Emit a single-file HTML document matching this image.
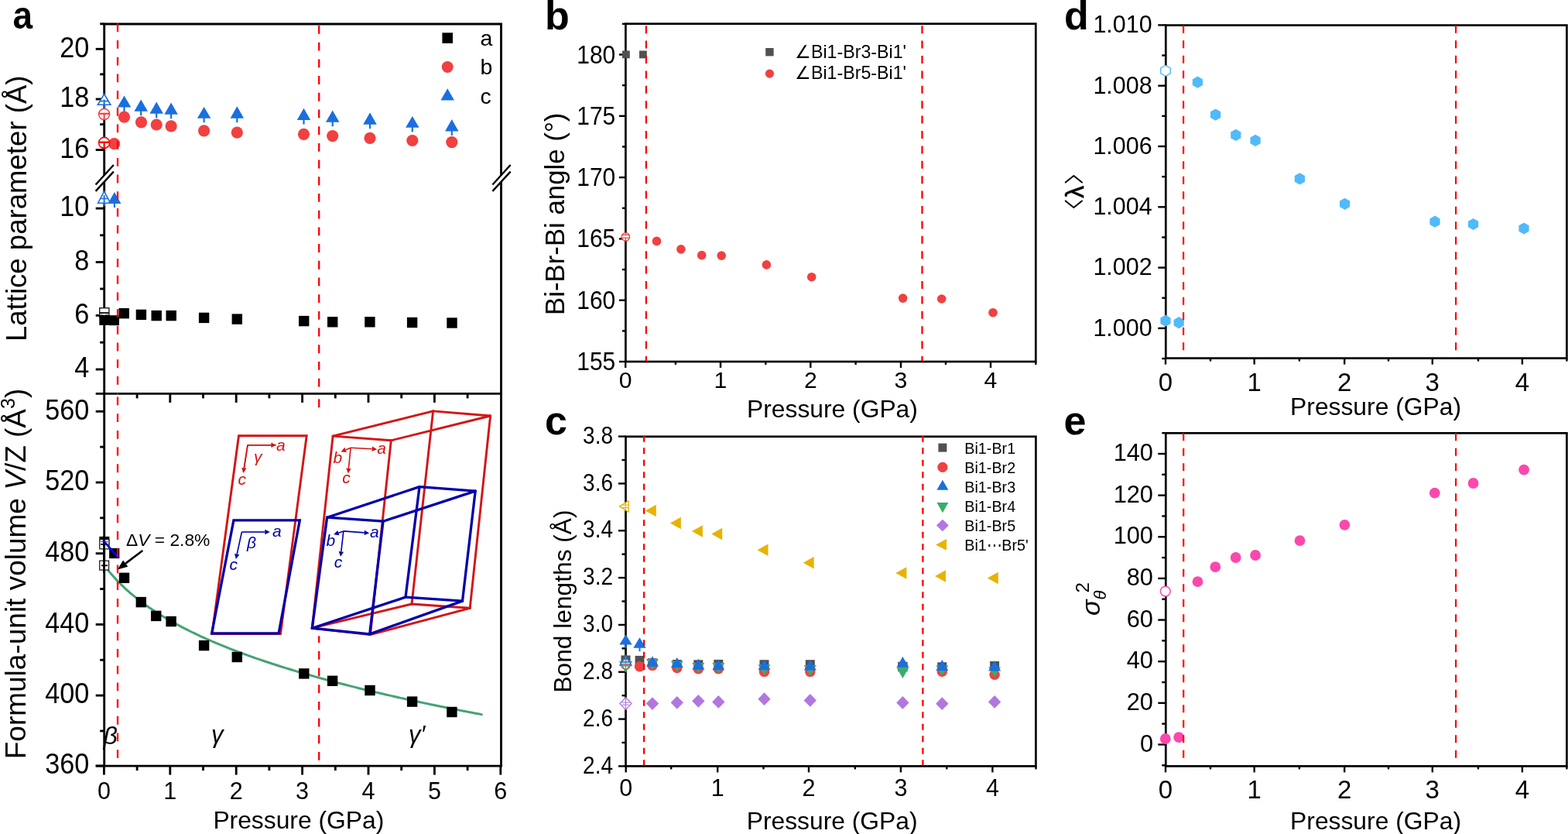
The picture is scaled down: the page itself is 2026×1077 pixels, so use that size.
<!DOCTYPE html>
<html><head><meta charset="utf-8"><title>Figure</title><style>html,body{margin:0;padding:0;background:#fff;overflow:hidden}svg{display:block}</style></head><body>
<svg width="2026" height="1077" viewBox="0 0 2026 1077" font-family="'Liberation Sans', Arial, Helvetica, sans-serif">
<rect width="2026" height="1077" fill="#fff"/>
<line x1="133.27" y1="31" x2="648.92" y2="31" stroke="#000" stroke-width="2.85" />
<line x1="134.7" y1="31" x2="134.7" y2="989.1" stroke="#000" stroke-width="2.85" />
<line x1="647.5" y1="31" x2="647.5" y2="989.1" stroke="#000" stroke-width="2.85" />
<line x1="123.7" y1="508.4" x2="648.92" y2="508.4" stroke="#000" stroke-width="2.85" />
<line x1="123.7" y1="989.1" x2="648.92" y2="989.1" stroke="#000" stroke-width="2.85" />
<line x1="123.7" y1="63.3" x2="134.7" y2="63.3" stroke="#000" stroke-width="2.85" />
<line x1="123.7" y1="128" x2="134.7" y2="128" stroke="#000" stroke-width="2.85" />
<line x1="123.7" y1="193.6" x2="134.7" y2="193.6" stroke="#000" stroke-width="2.85" />
<line x1="123.7" y1="269.1" x2="134.7" y2="269.1" stroke="#000" stroke-width="2.85" />
<line x1="123.7" y1="338.5" x2="134.7" y2="338.5" stroke="#000" stroke-width="2.85" />
<line x1="123.7" y1="407.4" x2="134.7" y2="407.4" stroke="#000" stroke-width="2.85" />
<line x1="123.7" y1="477" x2="134.7" y2="477" stroke="#000" stroke-width="2.85" />
<line x1="129.2" y1="30.8" x2="134.7" y2="30.8" stroke="#000" stroke-width="2.85" />
<line x1="129.2" y1="95.9" x2="134.7" y2="95.9" stroke="#000" stroke-width="2.85" />
<line x1="129.2" y1="160.6" x2="134.7" y2="160.6" stroke="#000" stroke-width="2.85" />
<line x1="129.2" y1="303.8" x2="134.7" y2="303.8" stroke="#000" stroke-width="2.85" />
<line x1="129.2" y1="373" x2="134.7" y2="373" stroke="#000" stroke-width="2.85" />
<line x1="129.2" y1="442.2" x2="134.7" y2="442.2" stroke="#000" stroke-width="2.85" />
<text x="0" y="0" transform="translate(115.2,73.5) scale(1,1.06)" font-size="34.2" text-anchor="end" fill="#000" >20</text>
<text x="0" y="0" transform="translate(115.2,138.2) scale(1,1.06)" font-size="34.2" text-anchor="end" fill="#000" >18</text>
<text x="0" y="0" transform="translate(115.2,203.8) scale(1,1.06)" font-size="34.2" text-anchor="end" fill="#000" >16</text>
<text x="0" y="0" transform="translate(115.2,279.3) scale(1,1.06)" font-size="34.2" text-anchor="end" fill="#000" >10</text>
<text x="0" y="0" transform="translate(115.2,348.7) scale(1,1.06)" font-size="34.2" text-anchor="end" fill="#000" >8</text>
<text x="0" y="0" transform="translate(115.2,417.6) scale(1,1.06)" font-size="34.2" text-anchor="end" fill="#000" >6</text>
<text x="0" y="0" transform="translate(115.2,487.2) scale(1,1.06)" font-size="34.2" text-anchor="end" fill="#000" >4</text>
<line x1="123.7" y1="531.3" x2="134.7" y2="531.3" stroke="#000" stroke-width="2.85" />
<line x1="123.7" y1="623" x2="134.7" y2="623" stroke="#000" stroke-width="2.85" />
<line x1="123.7" y1="714.7" x2="134.7" y2="714.7" stroke="#000" stroke-width="2.85" />
<line x1="123.7" y1="806.4" x2="134.7" y2="806.4" stroke="#000" stroke-width="2.85" />
<line x1="123.7" y1="898.1" x2="134.7" y2="898.1" stroke="#000" stroke-width="2.85" />
<line x1="123.7" y1="989" x2="134.7" y2="989" stroke="#000" stroke-width="2.85" />
<line x1="129.2" y1="577.15" x2="134.7" y2="577.15" stroke="#000" stroke-width="2.85" />
<line x1="129.2" y1="668.85" x2="134.7" y2="668.85" stroke="#000" stroke-width="2.85" />
<line x1="129.2" y1="760.55" x2="134.7" y2="760.55" stroke="#000" stroke-width="2.85" />
<line x1="129.2" y1="852.25" x2="134.7" y2="852.25" stroke="#000" stroke-width="2.85" />
<line x1="129.2" y1="943.95" x2="134.7" y2="943.95" stroke="#000" stroke-width="2.85" />
<text x="0" y="0" transform="translate(115.2,541.5) scale(1,1.06)" font-size="34.2" text-anchor="end" fill="#000" >560</text>
<text x="0" y="0" transform="translate(115.2,633.2) scale(1,1.06)" font-size="34.2" text-anchor="end" fill="#000" >520</text>
<text x="0" y="0" transform="translate(115.2,724.9) scale(1,1.06)" font-size="34.2" text-anchor="end" fill="#000" >480</text>
<text x="0" y="0" transform="translate(115.2,816.6) scale(1,1.06)" font-size="34.2" text-anchor="end" fill="#000" >440</text>
<text x="0" y="0" transform="translate(115.2,908.3) scale(1,1.06)" font-size="34.2" text-anchor="end" fill="#000" >400</text>
<text x="0" y="0" transform="translate(115.2,999.2) scale(1,1.06)" font-size="34.2" text-anchor="end" fill="#000" >360</text>
<line x1="134.4" y1="989.1" x2="134.4" y2="1000.6" stroke="#000" stroke-width="2.85" />
<line x1="219.8" y1="989.1" x2="219.8" y2="1000.6" stroke="#000" stroke-width="2.85" />
<line x1="305.2" y1="989.1" x2="305.2" y2="1000.6" stroke="#000" stroke-width="2.85" />
<line x1="390.6" y1="989.1" x2="390.6" y2="1000.6" stroke="#000" stroke-width="2.85" />
<line x1="476" y1="989.1" x2="476" y2="1000.6" stroke="#000" stroke-width="2.85" />
<line x1="561.4" y1="989.1" x2="561.4" y2="1000.6" stroke="#000" stroke-width="2.85" />
<line x1="646.8" y1="989.1" x2="646.8" y2="1000.6" stroke="#000" stroke-width="2.85" />
<line x1="177.1" y1="989.1" x2="177.1" y2="995.1" stroke="#000" stroke-width="2.85" />
<line x1="262.5" y1="989.1" x2="262.5" y2="995.1" stroke="#000" stroke-width="2.85" />
<line x1="347.9" y1="989.1" x2="347.9" y2="995.1" stroke="#000" stroke-width="2.85" />
<line x1="433.3" y1="989.1" x2="433.3" y2="995.1" stroke="#000" stroke-width="2.85" />
<line x1="518.7" y1="989.1" x2="518.7" y2="995.1" stroke="#000" stroke-width="2.85" />
<line x1="604.1" y1="989.1" x2="604.1" y2="995.1" stroke="#000" stroke-width="2.85" />
<text x="134.4" y="1032" font-size="30.5" text-anchor="middle" fill="#000" >0</text>
<text x="219.8" y="1032" font-size="30.5" text-anchor="middle" fill="#000" >1</text>
<text x="305.2" y="1032" font-size="30.5" text-anchor="middle" fill="#000" >2</text>
<text x="390.6" y="1032" font-size="30.5" text-anchor="middle" fill="#000" >3</text>
<text x="476" y="1032" font-size="30.5" text-anchor="middle" fill="#000" >4</text>
<text x="561.4" y="1032" font-size="30.5" text-anchor="middle" fill="#000" >5</text>
<text x="646.8" y="1032" font-size="30.5" text-anchor="middle" fill="#000" >6</text>
<line x1="219.8" y1="508.4" x2="219.8" y2="519.9" stroke="#000" stroke-width="2.85" />
<line x1="305.2" y1="508.4" x2="305.2" y2="519.9" stroke="#000" stroke-width="2.85" />
<line x1="390.6" y1="508.4" x2="390.6" y2="519.9" stroke="#000" stroke-width="2.85" />
<line x1="476" y1="508.4" x2="476" y2="519.9" stroke="#000" stroke-width="2.85" />
<line x1="561.4" y1="508.4" x2="561.4" y2="519.9" stroke="#000" stroke-width="2.85" />
<line x1="177.1" y1="508.4" x2="177.1" y2="514.4" stroke="#000" stroke-width="2.85" />
<line x1="262.5" y1="508.4" x2="262.5" y2="514.4" stroke="#000" stroke-width="2.85" />
<line x1="347.9" y1="508.4" x2="347.9" y2="514.4" stroke="#000" stroke-width="2.85" />
<line x1="433.3" y1="508.4" x2="433.3" y2="514.4" stroke="#000" stroke-width="2.85" />
<line x1="518.7" y1="508.4" x2="518.7" y2="514.4" stroke="#000" stroke-width="2.85" />
<line x1="604.1" y1="508.4" x2="604.1" y2="514.4" stroke="#000" stroke-width="2.85" />
<polygon points="123.6,238.5 146.4,213.4 146.4,222.1 123.6,246.9" fill="#fff" stroke="none" stroke-width="0" />
<line x1="123.6" y1="238.5" x2="146.8" y2="213" stroke="#000" stroke-width="2.4" />
<line x1="123.6" y1="246.9" x2="146.8" y2="221.6" stroke="#000" stroke-width="2.4" />
<polygon points="636.4,238.5 659.2,213.4 659.2,222.1 636.4,246.9" fill="#fff" stroke="none" stroke-width="0" />
<line x1="636.4" y1="238.5" x2="659.6" y2="213" stroke="#000" stroke-width="2.4" />
<line x1="636.4" y1="246.9" x2="659.6" y2="221.6" stroke="#000" stroke-width="2.4" />
<text x="0" y="0" font-size="36.6" text-anchor="middle" transform="translate(34,269.3) rotate(-90)" >Lattice parameter (Å)</text>
<text x="0" y="0" font-size="37" text-anchor="middle" transform="translate(32.8,741) rotate(-90)" >Formula-unit volume <tspan font-style="italic">V</tspan>/Z (Å<tspan baseline-shift="super" font-size="25">3</tspan>)</text>
<text x="275.4" y="1070" font-size="31.8" text-anchor="start" fill="#000" >Pressure (GPa)</text>
<text x="0" y="0" transform="translate(16.5,37.4) scale(0.92,1)" font-size="50" text-anchor="start" fill="#000" font-weight="bold">a</text>
<rect x="571.4" y="42.3" width="13.6" height="13.6" fill="#000" stroke="none" stroke-width="0"/>
<circle cx="578.2" cy="86.5" r="7.5" fill="#f14040" stroke="none" stroke-width="0"/>
<polygon points="578.2,114.3 586.95,129.5 569.45,129.5" fill="#1a6fdf" stroke="none" stroke-width="0" />
<text x="620.5" y="59" font-size="28.5" text-anchor="start" fill="#000" >a</text>
<text x="620.5" y="96.4" font-size="28.5" text-anchor="start" fill="#000" >b</text>
<text x="620.5" y="133.6" font-size="28.5" text-anchor="start" fill="#000" >c</text>
<line x1="134.6" y1="128.5" x2="134.6" y2="141" stroke="#1a6fdf" stroke-width="2.2" />
<polygon points="134.6,121.5 142.85,135.3 126.35,135.3" fill="#fff" stroke="#1a6fdf" stroke-width="1.6" />
<line x1="129" y1="130.6" x2="140.2" y2="130.6" stroke="#1a6fdf" stroke-width="1.6" />
<line x1="134.6" y1="128.5" x2="134.6" y2="141" stroke="#1a6fdf" stroke-width="2" />
<line x1="160.5" y1="136.6" x2="160.5" y2="144.1" stroke="#1a6fdf" stroke-width="2.2" />
<polygon points="160.5,123.4 169.25,138.6 151.75,138.6" fill="#1a6fdf" stroke="none" stroke-width="0" />
<line x1="182.2" y1="141.8" x2="182.2" y2="149.3" stroke="#1a6fdf" stroke-width="2.2" />
<polygon points="182.2,128.4 190.95,143.8 173.45,143.8" fill="#1a6fdf" stroke="none" stroke-width="0" />
<line x1="202.2" y1="144.8" x2="202.2" y2="152.3" stroke="#1a6fdf" stroke-width="2.2" />
<polygon points="202.2,131.4 210.95,146.8 193.45,146.8" fill="#1a6fdf" stroke="none" stroke-width="0" />
<line x1="221.1" y1="145.7" x2="221.1" y2="153.2" stroke="#1a6fdf" stroke-width="2.2" />
<polygon points="221.1,132.6 229.85,147.7 212.35,147.7" fill="#1a6fdf" stroke="none" stroke-width="0" />
<line x1="263.6" y1="150.7" x2="263.6" y2="158.2" stroke="#1a6fdf" stroke-width="2.2" />
<polygon points="263.6,137.9 272.35,152.7 254.85,152.7" fill="#1a6fdf" stroke="none" stroke-width="0" />
<line x1="306.3" y1="150.7" x2="306.3" y2="158.2" stroke="#1a6fdf" stroke-width="2.2" />
<polygon points="306.3,137.3 315.05,152.7 297.55,152.7" fill="#1a6fdf" stroke="none" stroke-width="0" />
<line x1="392.5" y1="153.1" x2="392.5" y2="160.6" stroke="#1a6fdf" stroke-width="2.2" />
<polygon points="392.5,139.7 401.25,155.1 383.75,155.1" fill="#1a6fdf" stroke="none" stroke-width="0" />
<line x1="429.7" y1="155.8" x2="429.7" y2="163.3" stroke="#1a6fdf" stroke-width="2.2" />
<polygon points="429.7,142.5 438.45,157.8 420.95,157.8" fill="#1a6fdf" stroke="none" stroke-width="0" />
<line x1="478" y1="158.7" x2="478" y2="166.2" stroke="#1a6fdf" stroke-width="2.2" />
<polygon points="478,145.3 486.75,160.7 469.25,160.7" fill="#1a6fdf" stroke="none" stroke-width="0" />
<line x1="532.8" y1="162.8" x2="532.8" y2="170.3" stroke="#1a6fdf" stroke-width="2.2" />
<polygon points="532.8,150 541.55,164.8 524.05,164.8" fill="#1a6fdf" stroke="none" stroke-width="0" />
<line x1="583.8" y1="167.5" x2="583.8" y2="175" stroke="#1a6fdf" stroke-width="2.2" />
<polygon points="583.8,154 592.55,169.5 575.05,169.5" fill="#1a6fdf" stroke="none" stroke-width="0" />
<line x1="134.6" y1="252" x2="134.6" y2="266" stroke="#1a6fdf" stroke-width="2" />
<polygon points="134.6,247.2 142.6,262.2 126.6,262.2" fill="#fff" stroke="#1a6fdf" stroke-width="1.6" />
<line x1="129.5" y1="256.5" x2="139.7" y2="256.5" stroke="#1a6fdf" stroke-width="1.5" />
<line x1="134.6" y1="252" x2="134.6" y2="266" stroke="#1a6fdf" stroke-width="2" />
<line x1="147.9" y1="258" x2="147.9" y2="268" stroke="#1a6fdf" stroke-width="2.2" />
<polygon points="147.9,248 156.4,263 139.4,263" fill="#1a6fdf" stroke="none" stroke-width="0" />
<circle cx="134.6" cy="147.5" r="7" fill="#fff" stroke="#f14040" stroke-width="1.5"/>
<line x1="128.2" y1="146.8" x2="141" y2="146.8" stroke="#f14040" stroke-width="2.2" />
<line x1="134.6" y1="146.8" x2="134.6" y2="154.5" stroke="#f14040" stroke-width="2" />
<circle cx="147.6" cy="185.7" r="7.6" fill="#f14040" stroke="none" stroke-width="0"/>
<circle cx="134.6" cy="184.4" r="7" fill="#fff" stroke="#ff0000" stroke-width="1.6"/>
<line x1="128.2" y1="183.7" x2="141" y2="183.7" stroke="#ff0000" stroke-width="2.4" />
<line x1="134.6" y1="183.7" x2="134.6" y2="191.5" stroke="#ff0000" stroke-width="2.2" />
<circle cx="160.5" cy="151.2" r="7.6" fill="#f14040" stroke="none" stroke-width="0"/>
<circle cx="182.5" cy="157.8" r="7.6" fill="#f14040" stroke="none" stroke-width="0"/>
<circle cx="202.2" cy="161" r="7.6" fill="#f14040" stroke="none" stroke-width="0"/>
<circle cx="221.1" cy="162.9" r="7.6" fill="#f14040" stroke="none" stroke-width="0"/>
<circle cx="263.6" cy="168.9" r="7.6" fill="#f14040" stroke="none" stroke-width="0"/>
<circle cx="306.3" cy="171.1" r="7.6" fill="#f14040" stroke="none" stroke-width="0"/>
<circle cx="392.5" cy="173.3" r="7.6" fill="#f14040" stroke="none" stroke-width="0"/>
<circle cx="429.7" cy="175.6" r="7.6" fill="#f14040" stroke="none" stroke-width="0"/>
<circle cx="478" cy="178.4" r="7.6" fill="#f14040" stroke="none" stroke-width="0"/>
<circle cx="532.8" cy="181.5" r="7.6" fill="#f14040" stroke="none" stroke-width="0"/>
<circle cx="583.8" cy="183.6" r="7.6" fill="#f14040" stroke="none" stroke-width="0"/>
<rect x="128.7" y="397.7" width="12.2" height="12.2" fill="#fff" stroke="#111" stroke-width="1.3"/>
<line x1="128.6" y1="404" x2="141" y2="404" stroke="#000" stroke-width="1.7" />
<line x1="129.5" y1="406.2" x2="133.5" y2="406.2" stroke="#888" stroke-width="1.2" />
<line x1="136" y1="406.2" x2="140" y2="406.2" stroke="#888" stroke-width="1.2" />
<rect x="128.3" y="406.9" width="13" height="13" fill="#000" stroke="none" stroke-width="0"/>
<rect x="141" y="407.2" width="13" height="13" fill="#000" stroke="none" stroke-width="0"/>
<rect x="153.5" y="398" width="13.4" height="13.4" fill="#000" stroke="none" stroke-width="0"/>
<rect x="175.7" y="399.7" width="13.4" height="13.4" fill="#000" stroke="none" stroke-width="0"/>
<rect x="195.5" y="400.9" width="13.4" height="13.4" fill="#000" stroke="none" stroke-width="0"/>
<rect x="214.5" y="400.9" width="13.4" height="13.4" fill="#000" stroke="none" stroke-width="0"/>
<rect x="256.9" y="403.7" width="13.4" height="13.4" fill="#000" stroke="none" stroke-width="0"/>
<rect x="299.6" y="405.4" width="13.4" height="13.4" fill="#000" stroke="none" stroke-width="0"/>
<rect x="386" y="407.9" width="13.4" height="13.4" fill="#000" stroke="none" stroke-width="0"/>
<rect x="423" y="409.1" width="13.4" height="13.4" fill="#000" stroke="none" stroke-width="0"/>
<rect x="471.2" y="409.1" width="13.4" height="13.4" fill="#000" stroke="none" stroke-width="0"/>
<rect x="525.9" y="409.8" width="13.4" height="13.4" fill="#000" stroke="none" stroke-width="0"/>
<rect x="577.3" y="410.3" width="13.4" height="13.4" fill="#000" stroke="none" stroke-width="0"/>
<polygon points="308.5,562.8 396.2,562.8 362.5,818.5 274,818.5" fill="none" stroke="#d41414" stroke-width="2.9" stroke-linejoin="miter"/>
<polygon points="301.9,671.9 387.3,671.9 360.1,817.9 273.6,817.9" fill="none" stroke="#0000aa" stroke-width="3.3" stroke-linejoin="miter"/>
<line x1="430.1" y1="563.1" x2="505.3" y2="568.8" stroke="#d41414" stroke-width="2.9" stroke-linecap="round"/>
<line x1="430.1" y1="563.1" x2="559.6" y2="530.9" stroke="#d41414" stroke-width="2.9" stroke-linecap="round"/>
<line x1="559.6" y1="530.9" x2="633.6" y2="537" stroke="#d41414" stroke-width="2.9" stroke-linecap="round"/>
<line x1="505.3" y1="568.8" x2="633.6" y2="537" stroke="#d41414" stroke-width="2.9" stroke-linecap="round"/>
<line x1="430.1" y1="563.1" x2="403.3" y2="811.2" stroke="#d41414" stroke-width="2.9" stroke-linecap="round"/>
<line x1="505.3" y1="568.8" x2="478.5" y2="819.6" stroke="#d41414" stroke-width="2.9" stroke-linecap="round"/>
<line x1="559.6" y1="530.9" x2="532" y2="780" stroke="#d41414" stroke-width="2.9" stroke-linecap="round"/>
<line x1="633.6" y1="537" x2="607.2" y2="785.3" stroke="#d41414" stroke-width="2.9" stroke-linecap="round"/>
<line x1="403.3" y1="811.2" x2="478.5" y2="819.6" stroke="#d41414" stroke-width="2.9" stroke-linecap="round"/>
<line x1="403.3" y1="811.2" x2="532" y2="780" stroke="#d41414" stroke-width="2.9" stroke-linecap="round"/>
<line x1="478.5" y1="819.6" x2="607.2" y2="785.3" stroke="#d41414" stroke-width="2.9" stroke-linecap="round"/>
<line x1="532" y1="780" x2="607.2" y2="785.3" stroke="#d41414" stroke-width="2.9" stroke-linecap="round"/>
<line x1="422.6" y1="668.2" x2="495" y2="673.2" stroke="#0000aa" stroke-width="3.3" stroke-linecap="round"/>
<line x1="422.6" y1="668.2" x2="542" y2="628.6" stroke="#0000aa" stroke-width="3.3" stroke-linecap="round"/>
<line x1="542" y1="628.6" x2="614.2" y2="634.1" stroke="#0000aa" stroke-width="3.3" stroke-linecap="round"/>
<line x1="495" y1="673.2" x2="614.2" y2="634.1" stroke="#0000aa" stroke-width="3.3" stroke-linecap="round"/>
<line x1="422.6" y1="668.2" x2="403.3" y2="811.2" stroke="#0000aa" stroke-width="3.3" stroke-linecap="round"/>
<line x1="495" y1="673.2" x2="477.7" y2="818.8" stroke="#0000aa" stroke-width="3.3" stroke-linecap="round"/>
<line x1="542" y1="628.6" x2="524" y2="771.1" stroke="#0000aa" stroke-width="3.3" stroke-linecap="round"/>
<line x1="614.2" y1="634.1" x2="597.5" y2="776.1" stroke="#0000aa" stroke-width="3.3" stroke-linecap="round"/>
<line x1="403.3" y1="811.2" x2="477.7" y2="818.8" stroke="#0000aa" stroke-width="3.3" stroke-linecap="round"/>
<line x1="403.3" y1="811.2" x2="524" y2="771.1" stroke="#0000aa" stroke-width="3.3" stroke-linecap="round"/>
<line x1="477.7" y1="818.8" x2="597.5" y2="776.1" stroke="#0000aa" stroke-width="3.3" stroke-linecap="round"/>
<line x1="524" y1="771.1" x2="597.5" y2="776.1" stroke="#0000aa" stroke-width="3.3" stroke-linecap="round"/>
<polyline points="314.4,610 320,574.8 356.6,574.8" fill="none" stroke="#d41414" stroke-width="1.6" />
<line x1="320" y1="574.8" x2="350.3" y2="574.8" stroke="#d41414" stroke-width="1.6" />
<polygon points="356.8,574.8 350.3,578 350.3,571.6" fill="#d41414" stroke="none" stroke-width="0" />
<line x1="320" y1="574.8" x2="315.4" y2="604.38" stroke="#d41414" stroke-width="1.6" />
<polygon points="314.4,610.8 312.24,603.89 318.56,604.87" fill="#d41414" stroke="none" stroke-width="0" />
<text x="357" y="582.2" font-size="21" text-anchor="start" fill="#d41414" font-style="italic">a</text>
<text x="307.6" y="626" font-size="21" text-anchor="start" fill="#d41414" font-style="italic">c</text>
<text x="328" y="597" font-size="21" text-anchor="start" fill="#d41414" font-style="italic">γ</text>
<line x1="312.4" y1="687" x2="342.3" y2="687" stroke="#0000aa" stroke-width="1.6" />
<polygon points="348.8,687 342.3,690.2 342.3,683.8" fill="#0000aa" stroke="none" stroke-width="0" />
<line x1="312.4" y1="687" x2="306.18" y2="715.65" stroke="#0000aa" stroke-width="1.6" />
<polygon points="304.8,722 303.05,714.97 309.31,716.33" fill="#0000aa" stroke="none" stroke-width="0" />
<text x="352" y="693.2" font-size="21" text-anchor="start" fill="#0000aa" font-style="italic">a</text>
<text x="296.6" y="736.4" font-size="21" text-anchor="start" fill="#0000aa" font-style="italic">c</text>
<text x="319" y="707.5" font-size="21" text-anchor="start" fill="#0000aa" font-style="italic">β</text>
<line x1="453.1" y1="578.2" x2="480.71" y2="579.82" stroke="#d41414" stroke-width="1.6" />
<polygon points="487.2,580.2 480.52,583.01 480.9,576.62" fill="#d41414" stroke="none" stroke-width="0" />
<line x1="453.1" y1="578.2" x2="446.6" y2="580.9" stroke="#d41414" stroke-width="1.6" />
<polygon points="440.6,583.4 445.3,577.76 447.91,584.04" fill="#d41414" stroke="none" stroke-width="0" />
<line x1="453.1" y1="578.2" x2="450.44" y2="604.93" stroke="#d41414" stroke-width="1.6" />
<polygon points="449.8,611.4 447.26,604.62 453.63,605.25" fill="#d41414" stroke="none" stroke-width="0" />
<text x="487.2" y="586" font-size="21" text-anchor="start" fill="#d41414" font-style="italic">a</text>
<text x="430.6" y="597.6" font-size="21" text-anchor="start" fill="#d41414" font-style="italic">b</text>
<text x="442.2" y="624.4" font-size="21" text-anchor="start" fill="#d41414" font-style="italic">c</text>
<line x1="443.8" y1="685.9" x2="470.72" y2="687.91" stroke="#0000aa" stroke-width="1.6" />
<polygon points="477.2,688.4 470.48,691.11 470.96,684.72" fill="#0000aa" stroke="none" stroke-width="0" />
<line x1="443.8" y1="685.9" x2="437.34" y2="688.16" stroke="#0000aa" stroke-width="1.6" />
<polygon points="431.2,690.3 436.22,684.95 438.46,691.37" fill="#0000aa" stroke="none" stroke-width="0" />
<line x1="443.8" y1="685.9" x2="440.83" y2="712.34" stroke="#0000aa" stroke-width="1.6" />
<polygon points="440.1,718.8 437.65,711.98 444.01,712.7" fill="#0000aa" stroke="none" stroke-width="0" />
<text x="478" y="694.3" font-size="21" text-anchor="start" fill="#0000aa" font-style="italic">a</text>
<text x="421.6" y="705" font-size="21" text-anchor="start" fill="#0000aa" font-style="italic">b</text>
<text x="431.8" y="732.7" font-size="21" text-anchor="start" fill="#0000aa" font-style="italic">c</text>
<polyline points="134.3,729.49 137.37,733.52 140.44,737.36 143.51,741.03 146.58,744.53 149.65,747.88 152.72,751.1 155.78,754.2 158.85,757.18 161.92,760.06 164.99,762.84 168.06,765.53 171.13,768.13 174.2,770.66 177.27,773.12 180.34,775.5 183.41,777.82 186.48,780.08 189.55,782.28 192.61,784.43 195.68,786.52 198.75,788.57 201.82,790.57 204.89,792.52 207.96,794.44 211.03,796.31 214.1,798.14 217.17,799.94 220.24,801.71 223.31,803.44 226.38,805.13 229.44,806.8 232.51,808.44 235.58,810.05 238.65,811.63 241.72,813.19 244.79,814.72 247.86,816.23 250.93,817.71 254,819.17 257.07,820.61 260.14,822.03 263.21,823.42 266.27,824.8 269.34,826.16 272.41,827.5 275.48,828.82 278.55,830.13 281.62,831.41 284.69,832.68 287.76,833.94 290.83,835.18 293.9,836.4 296.97,837.61 300.04,838.81 303.11,839.99 306.17,841.16 309.24,842.32 312.31,843.46 315.38,844.59 318.45,845.71 321.52,846.81 324.59,847.91 327.66,848.99 330.73,850.06 333.8,851.12 336.87,852.18 339.94,853.22 343,854.25 346.07,855.27 349.14,856.28 352.21,857.28 355.28,858.27 358.35,859.26 361.42,860.23 364.49,861.2 367.56,862.16 370.63,863.11 373.7,864.05 376.77,864.98 379.83,865.91 382.9,866.83 385.97,867.74 389.04,868.64 392.11,869.54 395.18,870.42 398.25,871.31 401.32,872.18 404.39,873.05 407.46,873.91 410.53,874.77 413.6,875.62 416.66,876.46 419.73,877.3 422.8,878.13 425.87,878.95 428.94,879.77 432.01,880.58 435.08,881.39 438.15,882.19 441.22,882.99 444.29,883.78 447.36,884.57 450.43,885.35 453.49,886.12 456.56,886.89 459.63,887.66 462.7,888.42 465.77,889.18 468.84,889.93 471.91,890.67 474.98,891.42 478.05,892.15 481.12,892.89 484.19,893.62 487.26,894.34 490.33,895.06 493.39,895.78 496.46,896.49 499.53,897.19 502.6,897.9 505.67,898.6 508.74,899.29 511.81,899.98 514.88,900.67 517.95,901.35 521.02,902.03 524.09,902.71 527.16,903.38 530.22,904.05 533.29,904.72 536.36,905.38 539.43,906.04 542.5,906.69 545.57,907.35 548.64,907.99 551.71,908.64 554.78,909.28 557.85,909.92 560.92,910.56 563.99,911.19 567.05,911.82 570.12,912.44 573.19,913.07 576.26,913.69 579.33,914.3 582.4,914.92 585.47,915.53 588.54,916.14 591.61,916.74 594.68,917.35 597.75,917.95 600.82,918.54 603.88,919.14 606.95,919.73 610.02,920.32 613.09,920.91 616.16,921.49 619.23,922.07 622.3,922.65" fill="none" stroke="#45a374" stroke-width="3" stroke-linecap="round" stroke-linejoin="round"/>
<rect x="128.35" y="692.9" width="13" height="13" fill="#000" stroke="none" stroke-width="0"/>
<rect x="128.75" y="696.65" width="12.2" height="12.2" fill="#fff" stroke="#222" stroke-width="1.3"/>
<line x1="130.2" y1="699.6" x2="139.6" y2="699.6" stroke="#333" stroke-width="0.9" />
<line x1="130.2" y1="702.9" x2="139.6" y2="702.9" stroke="#000" stroke-width="1.7" />
<rect x="128.7" y="724.15" width="11.9" height="11.9" fill="#fff" stroke="#222" stroke-width="1.3"/>
<line x1="130.9" y1="730.3" x2="139.2" y2="730.3" stroke="#000" stroke-width="1.8" />
<line x1="134.5" y1="692" x2="134.5" y2="740" stroke="#000" stroke-width="2.85" />
<rect x="141.1" y="707.9" width="13.2" height="13.2" fill="#000" stroke="none" stroke-width="0"/>
<line x1="133.9" y1="698.6" x2="152.9" y2="719.8" stroke="#0000ff" stroke-width="2.6" stroke-linecap="round"/>
<rect x="153.8" y="739.6" width="13.4" height="13.4" fill="#000" stroke="none" stroke-width="0"/>
<rect x="175.6" y="770.9" width="13.4" height="13.4" fill="#000" stroke="none" stroke-width="0"/>
<rect x="195" y="788.7" width="13.4" height="13.4" fill="#000" stroke="none" stroke-width="0"/>
<rect x="214.4" y="795.8" width="13.4" height="13.4" fill="#000" stroke="none" stroke-width="0"/>
<rect x="256.9" y="826.9" width="13.4" height="13.4" fill="#000" stroke="none" stroke-width="0"/>
<rect x="299.6" y="841.8" width="13.4" height="13.4" fill="#000" stroke="none" stroke-width="0"/>
<rect x="386.1" y="863.2" width="13.4" height="13.4" fill="#000" stroke="none" stroke-width="0"/>
<rect x="422.9" y="872.6" width="13.4" height="13.4" fill="#000" stroke="none" stroke-width="0"/>
<rect x="471.3" y="884.8" width="13.4" height="13.4" fill="#000" stroke="none" stroke-width="0"/>
<rect x="525.9" y="899.4" width="13.4" height="13.4" fill="#000" stroke="none" stroke-width="0"/>
<rect x="577.2" y="912.8" width="13.4" height="13.4" fill="#000" stroke="none" stroke-width="0"/>
<line x1="184.3" y1="711" x2="162.2" y2="727.59" stroke="#000" stroke-width="2.6" />
<polygon points="151.8,735.4 159.07,723.44 165.32,731.75" fill="#000" stroke="none" stroke-width="0" />
<text x="163" y="705.3" font-size="22.8" text-anchor="start" fill="#000" >Δ<tspan font-style="italic">V</tspan> = 2.8%</text>
<text x="133.4" y="961.2" font-size="32" text-anchor="start" fill="#000" font-style="italic">β</text>
<text x="273" y="958.6" font-size="31" text-anchor="start" fill="#000" font-style="italic">γ</text>
<text x="528" y="958.6" font-size="31" text-anchor="start" fill="#000" font-style="italic">γ′</text>
<line x1="152" y1="30.3" x2="152" y2="509" stroke="#ff0000" stroke-width="2.3" stroke-dasharray="10.85 10.85" stroke-dashoffset="0"/>
<line x1="152" y1="512.5" x2="152" y2="988" stroke="#ff0000" stroke-width="2.3" stroke-dasharray="10.85 10.85" stroke-dashoffset="0"/>
<line x1="412.2" y1="33" x2="412.2" y2="510" stroke="#ff0000" stroke-width="2.3" stroke-dasharray="10.85 10.85" stroke-dashoffset="0"/>
<line x1="412.2" y1="515.3" x2="412.2" y2="527" stroke="#ff0000" stroke-width="2.3" stroke-dasharray="10.85 10.85" stroke-dashoffset="0"/>
<line x1="412.2" y1="821.3" x2="412.2" y2="988" stroke="#ff0000" stroke-width="2.3" stroke-dasharray="10.85 10.85" stroke-dashoffset="2.2"/>
<rect x="808.4" y="30.7" width="529.9" height="436.3" fill="none" stroke="#000" stroke-width="2.7"/>
<line x1="799.9" y1="70.5" x2="808.4" y2="70.5" stroke="#000" stroke-width="2.4" />
<line x1="799.9" y1="149.8" x2="808.4" y2="149.8" stroke="#000" stroke-width="2.4" />
<line x1="799.9" y1="229.1" x2="808.4" y2="229.1" stroke="#000" stroke-width="2.4" />
<line x1="799.9" y1="308.4" x2="808.4" y2="308.4" stroke="#000" stroke-width="2.4" />
<line x1="799.9" y1="387.7" x2="808.4" y2="387.7" stroke="#000" stroke-width="2.4" />
<line x1="799.9" y1="467" x2="808.4" y2="467" stroke="#000" stroke-width="2.4" />
<line x1="803.9" y1="30.85" x2="808.4" y2="30.85" stroke="#000" stroke-width="2.4" />
<line x1="803.9" y1="110.15" x2="808.4" y2="110.15" stroke="#000" stroke-width="2.4" />
<line x1="803.9" y1="189.45" x2="808.4" y2="189.45" stroke="#000" stroke-width="2.4" />
<line x1="803.9" y1="268.75" x2="808.4" y2="268.75" stroke="#000" stroke-width="2.4" />
<line x1="803.9" y1="348.05" x2="808.4" y2="348.05" stroke="#000" stroke-width="2.4" />
<line x1="803.9" y1="427.35" x2="808.4" y2="427.35" stroke="#000" stroke-width="2.4" />
<text x="0" y="0" transform="translate(795.3,81.5) scale(1,1.08)" font-size="30" text-anchor="end" fill="#000" >180</text>
<text x="0" y="0" transform="translate(795.3,160.8) scale(1,1.08)" font-size="30" text-anchor="end" fill="#000" >175</text>
<text x="0" y="0" transform="translate(795.3,240.1) scale(1,1.08)" font-size="30" text-anchor="end" fill="#000" >170</text>
<text x="0" y="0" transform="translate(795.3,319.4) scale(1,1.08)" font-size="30" text-anchor="end" fill="#000" >165</text>
<text x="0" y="0" transform="translate(795.3,398.7) scale(1,1.08)" font-size="30" text-anchor="end" fill="#000" >160</text>
<text x="0" y="0" transform="translate(795.3,478) scale(1,1.08)" font-size="30" text-anchor="end" fill="#000" >155</text>
<line x1="808.2" y1="467" x2="808.2" y2="475" stroke="#000" stroke-width="2.4" />
<line x1="931" y1="467" x2="931" y2="475" stroke="#000" stroke-width="2.4" />
<line x1="1047.3" y1="467" x2="1047.3" y2="475" stroke="#000" stroke-width="2.4" />
<line x1="1164" y1="467" x2="1164" y2="475" stroke="#000" stroke-width="2.4" />
<line x1="1280" y1="467" x2="1280" y2="475" stroke="#000" stroke-width="2.4" />
<line x1="872.9" y1="467" x2="872.9" y2="471" stroke="#000" stroke-width="2.4" />
<line x1="989.3" y1="467" x2="989.3" y2="471" stroke="#000" stroke-width="2.4" />
<line x1="1105.6" y1="467" x2="1105.6" y2="471" stroke="#000" stroke-width="2.4" />
<line x1="1222" y1="467" x2="1222" y2="471" stroke="#000" stroke-width="2.4" />
<line x1="1338.3" y1="467" x2="1338.3" y2="471" stroke="#000" stroke-width="2.4" />
<text x="808.2" y="500.8" font-size="30.2" text-anchor="middle" fill="#000" >0</text>
<text x="931" y="500.8" font-size="30.2" text-anchor="middle" fill="#000" >1</text>
<text x="1047.3" y="500.8" font-size="30.2" text-anchor="middle" fill="#000" >2</text>
<text x="1164" y="500.8" font-size="30.2" text-anchor="middle" fill="#000" >3</text>
<text x="1280" y="500.8" font-size="30.2" text-anchor="middle" fill="#000" >4</text>
<text x="0" y="0" font-size="34.8" text-anchor="middle" transform="translate(728.8,276.3) rotate(-90)" >Bi-Br-Bi angle (°)</text>
<text x="965" y="539.3" font-size="31.8" text-anchor="start" fill="#000" >Pressure (GPa)</text>
<text x="704" y="37.5" font-size="52" text-anchor="start" fill="#000" font-weight="bold">b</text>
<rect x="989.2" y="62" width="10.4" height="10.4" fill="#515151" stroke="none" stroke-width="0"/>
<circle cx="994.4" cy="95.1" r="5.6" fill="#f14040" stroke="none" stroke-width="0"/>
<text x="1027" y="75.2" font-size="23.2" text-anchor="start" fill="#000" >∠Bi1-Br3-Bi1'</text>
<text x="1027" y="102.2" font-size="23.2" text-anchor="start" fill="#000" >∠Bi1-Br5-Bi1'</text>
<rect x="804" y="65.5" width="9.8" height="9.8" fill="#515151" stroke="none" stroke-width="0"/>
<rect x="826" y="65.5" width="9.8" height="9.8" fill="#515151" stroke="none" stroke-width="0"/>
<circle cx="808.4" cy="305.9" r="5.2" fill="#fff" stroke="#f14040" stroke-width="1.3"/>
<line x1="803.2" y1="303.4" x2="813.6" y2="303.4" stroke="#f14040" stroke-width="1.2" />
<line x1="803.2" y1="307.1" x2="813.6" y2="307.1" stroke="#f14040" stroke-width="1.2" />
<line x1="808.4" y1="300.8" x2="808.4" y2="303.4" stroke="#f14040" stroke-width="1.2" />
<line x1="808.4" y1="307.1" x2="808.4" y2="311" stroke="#f14040" stroke-width="1.2" />
<circle cx="848.5" cy="311.4" r="5.8" fill="#f14040" stroke="none" stroke-width="0"/>
<circle cx="879.9" cy="321.9" r="5.8" fill="#f14040" stroke="none" stroke-width="0"/>
<circle cx="906.7" cy="329.6" r="5.8" fill="#f14040" stroke="none" stroke-width="0"/>
<circle cx="932.2" cy="330.1" r="5.8" fill="#f14040" stroke="none" stroke-width="0"/>
<circle cx="990.4" cy="341.9" r="5.8" fill="#f14040" stroke="none" stroke-width="0"/>
<circle cx="1048.7" cy="357.7" r="5.8" fill="#f14040" stroke="none" stroke-width="0"/>
<circle cx="1166.6" cy="385.1" r="5.8" fill="#f14040" stroke="none" stroke-width="0"/>
<circle cx="1216.7" cy="386" r="5.8" fill="#f14040" stroke="none" stroke-width="0"/>
<circle cx="1283" cy="403.7" r="5.8" fill="#f14040" stroke="none" stroke-width="0"/>
<line x1="834.9" y1="33.2" x2="834.9" y2="466" stroke="#ff0000" stroke-width="2.3" stroke-dasharray="10 9.4" stroke-dashoffset="0"/>
<line x1="1191.5" y1="33.2" x2="1191.5" y2="466" stroke="#ff0000" stroke-width="2.3" stroke-dasharray="10 9.4" stroke-dashoffset="0"/>
<rect x="808.5" y="563.8" width="529.9" height="425.6" fill="none" stroke="#000" stroke-width="2.7"/>
<line x1="799" y1="563.6" x2="808.5" y2="563.6" stroke="#000" stroke-width="2.4" />
<line x1="799" y1="624.43" x2="808.5" y2="624.43" stroke="#000" stroke-width="2.4" />
<line x1="799" y1="685.26" x2="808.5" y2="685.26" stroke="#000" stroke-width="2.4" />
<line x1="799" y1="746.09" x2="808.5" y2="746.09" stroke="#000" stroke-width="2.4" />
<line x1="799" y1="806.91" x2="808.5" y2="806.91" stroke="#000" stroke-width="2.4" />
<line x1="799" y1="867.74" x2="808.5" y2="867.74" stroke="#000" stroke-width="2.4" />
<line x1="799" y1="928.57" x2="808.5" y2="928.57" stroke="#000" stroke-width="2.4" />
<line x1="799" y1="989.4" x2="808.5" y2="989.4" stroke="#000" stroke-width="2.4" />
<line x1="803.5" y1="594.01" x2="808.5" y2="594.01" stroke="#000" stroke-width="2.4" />
<line x1="803.5" y1="654.84" x2="808.5" y2="654.84" stroke="#000" stroke-width="2.4" />
<line x1="803.5" y1="715.67" x2="808.5" y2="715.67" stroke="#000" stroke-width="2.4" />
<line x1="803.5" y1="776.5" x2="808.5" y2="776.5" stroke="#000" stroke-width="2.4" />
<line x1="803.5" y1="837.33" x2="808.5" y2="837.33" stroke="#000" stroke-width="2.4" />
<line x1="803.5" y1="898.16" x2="808.5" y2="898.16" stroke="#000" stroke-width="2.4" />
<line x1="803.5" y1="958.99" x2="808.5" y2="958.99" stroke="#000" stroke-width="2.4" />
<text x="0" y="0" transform="translate(792,572.7) scale(1,1.1)" font-size="28" text-anchor="end" fill="#000" >3.8</text>
<text x="0" y="0" transform="translate(792,633.53) scale(1,1.1)" font-size="28" text-anchor="end" fill="#000" >3.6</text>
<text x="0" y="0" transform="translate(792,694.36) scale(1,1.1)" font-size="28" text-anchor="end" fill="#000" >3.4</text>
<text x="0" y="0" transform="translate(792,755.19) scale(1,1.1)" font-size="28" text-anchor="end" fill="#000" >3.2</text>
<text x="0" y="0" transform="translate(792,816.01) scale(1,1.1)" font-size="28" text-anchor="end" fill="#000" >3.0</text>
<text x="0" y="0" transform="translate(792,876.84) scale(1,1.1)" font-size="28" text-anchor="end" fill="#000" >2.8</text>
<text x="0" y="0" transform="translate(792,937.67) scale(1,1.1)" font-size="28" text-anchor="end" fill="#000" >2.6</text>
<text x="0" y="0" transform="translate(792,998.5) scale(1,1.1)" font-size="28" text-anchor="end" fill="#000" >2.4</text>
<line x1="808.7" y1="989.4" x2="808.7" y2="997.4" stroke="#000" stroke-width="2.4" />
<line x1="927.2" y1="989.4" x2="927.2" y2="997.4" stroke="#000" stroke-width="2.4" />
<line x1="1045" y1="989.4" x2="1045" y2="997.4" stroke="#000" stroke-width="2.4" />
<line x1="1163.9" y1="989.4" x2="1163.9" y2="997.4" stroke="#000" stroke-width="2.4" />
<line x1="1282.4" y1="989.4" x2="1282.4" y2="997.4" stroke="#000" stroke-width="2.4" />
<line x1="867.2" y1="989.4" x2="867.2" y2="993.4" stroke="#000" stroke-width="2.4" />
<line x1="986.5" y1="989.4" x2="986.5" y2="993.4" stroke="#000" stroke-width="2.4" />
<line x1="1104.8" y1="989.4" x2="1104.8" y2="993.4" stroke="#000" stroke-width="2.4" />
<line x1="1223.3" y1="989.4" x2="1223.3" y2="993.4" stroke="#000" stroke-width="2.4" />
<line x1="1338.5" y1="989.4" x2="1338.5" y2="993.4" stroke="#000" stroke-width="2.4" />
<text x="808.7" y="1027.8" font-size="30.5" text-anchor="middle" fill="#000" >0</text>
<text x="927.2" y="1027.8" font-size="30.5" text-anchor="middle" fill="#000" >1</text>
<text x="1045" y="1027.8" font-size="30.5" text-anchor="middle" fill="#000" >2</text>
<text x="1163.9" y="1027.8" font-size="30.5" text-anchor="middle" fill="#000" >3</text>
<text x="1282.4" y="1027.8" font-size="30.5" text-anchor="middle" fill="#000" >4</text>
<text x="0" y="0" font-size="31.7" text-anchor="middle" transform="translate(737.7,776.5) rotate(-90)" >Bond lengths (Å)</text>
<text x="964.7" y="1070.5" font-size="31.8" text-anchor="start" fill="#000" >Pressure (GPa)</text>
<text x="704" y="561.2" font-size="52" text-anchor="start" fill="#000" font-weight="bold">c</text>
<rect x="1212.4" y="572.6" width="11" height="11" fill="#515151" stroke="none" stroke-width="0"/>
<circle cx="1217.9" cy="603.4" r="6.6" fill="#f14040" stroke="none" stroke-width="0"/>
<polygon points="1217.9,619.8 1225.4,632.8 1210.4,632.8" fill="#1a6fdf" stroke="none" stroke-width="0" />
<polygon points="1210.4,648.9 1225.4,648.9 1217.9,662.2" fill="#37ad6b" stroke="none" stroke-width="0" />
<polygon points="1217.9,670.7 1225.85,678.5 1217.9,686.3 1209.95,678.5" fill="#b177de" stroke="none" stroke-width="0" />
<polygon points="1209,703.4 1223,696 1223,710.8" fill="#e6b400" stroke="none" stroke-width="0" />
<text x="0" y="0" transform="translate(1246.3,585.7) scale(0.95,1)" font-size="20.8" text-anchor="start" fill="#000" >Bi1-Br1</text>
<text x="0" y="0" transform="translate(1246.3,610.7) scale(0.95,1)" font-size="20.8" text-anchor="start" fill="#000" >Bi1-Br2</text>
<text x="0" y="0" transform="translate(1246.3,635.7) scale(0.95,1)" font-size="20.8" text-anchor="start" fill="#000" >Bi1-Br3</text>
<text x="0" y="0" transform="translate(1246.3,660.7) scale(0.95,1)" font-size="20.8" text-anchor="start" fill="#000" >Bi1-Br4</text>
<text x="0" y="0" transform="translate(1246.3,685.7) scale(0.95,1)" font-size="20.8" text-anchor="start" fill="#000" >Bi1-Br5</text>
<text x="0" y="0" transform="translate(1246.3,710.7) scale(0.95,1)" font-size="20.8" text-anchor="start" fill="#000" >Bi1⋯Br5'</text>
<rect x="802.5" y="846.4" width="12" height="12" fill="#515151" stroke="none" stroke-width="0"/>
<circle cx="808.5" cy="857.7" r="6.4" fill="#fff" stroke="#f14040" stroke-width="1.3"/>
<polygon points="801,854.4 816,854.4 808.5,867.4" fill="none" stroke="#37ad6b" stroke-width="1.3" />
<polygon points="808.5,846.3 816,859.2 801,859.2" fill="none" stroke="#1a6fdf" stroke-width="1.3" />
<line x1="803.5" y1="855.2" x2="813.5" y2="855.2" stroke="#1a6fdf" stroke-width="1.2" />
<line x1="803.5" y1="857.6" x2="813.5" y2="857.6" stroke="#f14040" stroke-width="1.2" />
<line x1="803.5" y1="860" x2="813.5" y2="860" stroke="#37ad6b" stroke-width="1.2" />
<line x1="808.5" y1="848" x2="808.5" y2="866" stroke="#37ad6b" stroke-width="1.2" />
<line x1="808.5" y1="826" x2="808.5" y2="837" stroke="#1a6fdf" stroke-width="2" />
<polygon points="808.5,819.3 816.65,832.6 800.35,832.6" fill="#1a6fdf" stroke="none" stroke-width="0" />
<polygon points="808.5,900.7 816.1,908.6 808.5,916.5 800.9,908.6" fill="#fff" stroke="#b177de" stroke-width="1.3" />
<line x1="803.5" y1="907.2" x2="813.5" y2="907.2" stroke="#b177de" stroke-width="1.1" />
<line x1="803.5" y1="910.2" x2="813.5" y2="910.2" stroke="#b177de" stroke-width="1.1" />
<line x1="808.5" y1="902" x2="808.5" y2="915" stroke="#b177de" stroke-width="1.1" />
<polygon points="800.6,653.9 812.2,646.8 812.2,661" fill="#fff" stroke="#e6b400" stroke-width="1.3" />
<line x1="803" y1="652.2" x2="813" y2="652.2" stroke="#e6b400" stroke-width="1.1" />
<line x1="803" y1="655.6" x2="813" y2="655.6" stroke="#e6b400" stroke-width="1.1" />
<line x1="808.2" y1="648" x2="808.2" y2="660" stroke="#e6b400" stroke-width="1.1" />
<rect x="820.6" y="846.9" width="11.8" height="11.8" fill="#515151" stroke="none" stroke-width="0"/>
<circle cx="826.5" cy="860.7" r="6.7" fill="#f14040" stroke="none" stroke-width="0"/>
<line x1="826.5" y1="832" x2="826.5" y2="841.1" stroke="#1a6fdf" stroke-width="2" />
<polygon points="826.5,823.3 834.65,836.7 818.35,836.7" fill="#1a6fdf" stroke="none" stroke-width="0" />
<rect x="837" y="850.2" width="12" height="12" fill="#515151" stroke="none" stroke-width="0"/>
<circle cx="843" cy="859.4" r="6.7" fill="#f14040" stroke="none" stroke-width="0"/>
<polygon points="835,851 851,851 843,865" fill="#37ad6b" stroke="none" stroke-width="0" />
<polygon points="843,847.3 851,860.8 835,860.8" fill="#1a6fdf" stroke="none" stroke-width="0" />
<polygon points="843,900.2 851.2,908.6 843,917 834.8,908.6" fill="#b177de" stroke="none" stroke-width="0" />
<rect x="868.8" y="852" width="12" height="12" fill="#515151" stroke="none" stroke-width="0"/>
<circle cx="874.8" cy="862.5" r="6.7" fill="#f14040" stroke="none" stroke-width="0"/>
<polygon points="866.8,853.6 882.8,853.6 874.8,867.3" fill="#37ad6b" stroke="none" stroke-width="0" />
<polygon points="874.8,849.1 882.8,862.1 866.8,862.1" fill="#1a6fdf" stroke="none" stroke-width="0" />
<polygon points="874.8,898.9 883,907.3 874.8,915.7 866.6,907.3" fill="#b177de" stroke="none" stroke-width="0" />
<rect x="896.3" y="852.3" width="12" height="12" fill="#515151" stroke="none" stroke-width="0"/>
<circle cx="902.3" cy="863.8" r="6.7" fill="#f14040" stroke="none" stroke-width="0"/>
<polygon points="894.3,855.9 910.3,855.9 902.3,869.2" fill="#37ad6b" stroke="none" stroke-width="0" />
<polygon points="902.3,850.7 910.3,864.8 894.3,864.8" fill="#1a6fdf" stroke="none" stroke-width="0" />
<polygon points="902.3,896.9 910.5,905.3 902.3,913.7 894.1,905.3" fill="#b177de" stroke="none" stroke-width="0" />
<rect x="922.3" y="851.9" width="12" height="12" fill="#515151" stroke="none" stroke-width="0"/>
<circle cx="928.3" cy="863.8" r="6.7" fill="#f14040" stroke="none" stroke-width="0"/>
<polygon points="920.3,855.9 936.3,855.9 928.3,870" fill="#37ad6b" stroke="none" stroke-width="0" />
<polygon points="928.3,851.8 936.3,865.2 920.3,865.2" fill="#1a6fdf" stroke="none" stroke-width="0" />
<polygon points="928.3,898 936.5,906.4 928.3,914.8 920.1,906.4" fill="#b177de" stroke="none" stroke-width="0" />
<rect x="981.5" y="852.2" width="12" height="12" fill="#515151" stroke="none" stroke-width="0"/>
<circle cx="987.5" cy="867.4" r="6.7" fill="#f14040" stroke="none" stroke-width="0"/>
<polygon points="979.5,858.3 995.5,858.3 987.5,871.9" fill="#37ad6b" stroke="none" stroke-width="0" />
<polygon points="987.5,851.7 995.5,865.2 979.5,865.2" fill="#1a6fdf" stroke="none" stroke-width="0" />
<polygon points="987.5,894.3 995.7,902.7 987.5,911.1 979.3,902.7" fill="#b177de" stroke="none" stroke-width="0" />
<rect x="1040.8" y="852.2" width="12" height="12" fill="#515151" stroke="none" stroke-width="0"/>
<circle cx="1046.8" cy="867.4" r="6.7" fill="#f14040" stroke="none" stroke-width="0"/>
<polygon points="1038.8,859.1 1054.8,859.1 1046.8,872.9" fill="#37ad6b" stroke="none" stroke-width="0" />
<polygon points="1046.8,852 1054.8,865.4 1038.8,865.4" fill="#1a6fdf" stroke="none" stroke-width="0" />
<polygon points="1046.8,896 1055,904.4 1046.8,912.8 1038.6,904.4" fill="#b177de" stroke="none" stroke-width="0" />
<rect x="1211.3" y="855.3" width="12" height="12" fill="#515151" stroke="none" stroke-width="0"/>
<circle cx="1217.3" cy="867.3" r="6.7" fill="#f14040" stroke="none" stroke-width="0"/>
<polygon points="1209.3,859.4 1225.3,859.4 1217.3,872.8" fill="#37ad6b" stroke="none" stroke-width="0" />
<polygon points="1217.3,852.1 1225.3,865.9 1209.3,865.9" fill="#1a6fdf" stroke="none" stroke-width="0" />
<polygon points="1217.3,900.3 1225.5,908.7 1217.3,917.1 1209.1,908.7" fill="#b177de" stroke="none" stroke-width="0" />
<rect x="1279.1" y="854" width="12" height="12" fill="#515151" stroke="none" stroke-width="0"/>
<circle cx="1285.1" cy="871.3" r="6.7" fill="#f14040" stroke="none" stroke-width="0"/>
<polygon points="1277.1,861.4 1293.1,861.4 1285.1,874.6" fill="#37ad6b" stroke="none" stroke-width="0" />
<polygon points="1285.1,853.1 1293.1,866.6 1277.1,866.6" fill="#1a6fdf" stroke="none" stroke-width="0" />
<polygon points="1285.1,898 1293.3,906.4 1285.1,914.8 1276.9,906.4" fill="#b177de" stroke="none" stroke-width="0" />
<rect x="1160.2" y="854.8" width="12.4" height="12.4" fill="#515151" stroke="none" stroke-width="0"/>
<circle cx="1166.4" cy="861.8" r="6.2" fill="#f14040" stroke="none" stroke-width="0"/>
<polygon points="1158.4,862.1 1174.4,862.1 1166.4,875.9" fill="#37ad6b" stroke="none" stroke-width="0" />
<polygon points="1166.4,848 1174.4,861.6 1158.4,861.6" fill="#1a6fdf" stroke="none" stroke-width="0" />
<polygon points="1166.4,899 1174.6,907.4 1166.4,915.8 1158.2,907.4" fill="#b177de" stroke="none" stroke-width="0" />
<polygon points="833.8,659.4 847.8,651.65 847.8,667.15" fill="#e6b400" stroke="none" stroke-width="0" />
<polygon points="865.9,675.4 879.9,667.65 879.9,683.15" fill="#e6b400" stroke="none" stroke-width="0" />
<polygon points="893.9,686 907.9,678.25 907.9,693.75" fill="#e6b400" stroke="none" stroke-width="0" />
<polygon points="919.2,689.5 933.2,681.75 933.2,697.25" fill="#e6b400" stroke="none" stroke-width="0" />
<polygon points="978.5,710.2 992.5,702.45 992.5,717.95" fill="#e6b400" stroke="none" stroke-width="0" />
<polygon points="1037.7,726.7 1051.7,718.95 1051.7,734.45" fill="#e6b400" stroke="none" stroke-width="0" />
<polygon points="1157.4,739.9 1171.4,732.15 1171.4,747.65" fill="#e6b400" stroke="none" stroke-width="0" />
<polygon points="1208,743.9 1222,736.15 1222,751.65" fill="#e6b400" stroke="none" stroke-width="0" />
<polygon points="1275.8,746.4 1289.8,738.65 1289.8,754.15" fill="#e6b400" stroke="none" stroke-width="0" />
<line x1="832.1" y1="562.7" x2="832.1" y2="988.4" stroke="#ff0000" stroke-width="2.3" stroke-dasharray="8 7.5" stroke-dashoffset="0"/>
<line x1="1192.4" y1="562.7" x2="1192.4" y2="988.4" stroke="#ff0000" stroke-width="2.3" stroke-dasharray="8 7.5" stroke-dashoffset="0"/>
<rect x="1506.3" y="32.6" width="518.1" height="430" fill="none" stroke="#000" stroke-width="2.7"/>
<line x1="1496.3" y1="32.4" x2="1506.3" y2="32.4" stroke="#000" stroke-width="2.4" />
<line x1="1496.3" y1="110.7" x2="1506.3" y2="110.7" stroke="#000" stroke-width="2.4" />
<line x1="1496.3" y1="189" x2="1506.3" y2="189" stroke="#000" stroke-width="2.4" />
<line x1="1496.3" y1="267.3" x2="1506.3" y2="267.3" stroke="#000" stroke-width="2.4" />
<line x1="1496.3" y1="345.6" x2="1506.3" y2="345.6" stroke="#000" stroke-width="2.4" />
<line x1="1496.3" y1="423.9" x2="1506.3" y2="423.9" stroke="#000" stroke-width="2.4" />
<line x1="1501.3" y1="71.55" x2="1506.3" y2="71.55" stroke="#000" stroke-width="2.4" />
<line x1="1501.3" y1="149.85" x2="1506.3" y2="149.85" stroke="#000" stroke-width="2.4" />
<line x1="1501.3" y1="228.15" x2="1506.3" y2="228.15" stroke="#000" stroke-width="2.4" />
<line x1="1501.3" y1="306.45" x2="1506.3" y2="306.45" stroke="#000" stroke-width="2.4" />
<line x1="1501.3" y1="384.75" x2="1506.3" y2="384.75" stroke="#000" stroke-width="2.4" />
<line x1="1501.3" y1="463.05" x2="1506.3" y2="463.05" stroke="#000" stroke-width="2.4" />
<text x="0" y="0" transform="translate(1488.7,42.2) scale(1,1.04)" font-size="30.5" text-anchor="end" fill="#000" >1.010</text>
<text x="0" y="0" transform="translate(1488.7,120.5) scale(1,1.04)" font-size="30.5" text-anchor="end" fill="#000" >1.008</text>
<text x="0" y="0" transform="translate(1488.7,198.8) scale(1,1.04)" font-size="30.5" text-anchor="end" fill="#000" >1.006</text>
<text x="0" y="0" transform="translate(1488.7,277.1) scale(1,1.04)" font-size="30.5" text-anchor="end" fill="#000" >1.004</text>
<text x="0" y="0" transform="translate(1488.7,355.4) scale(1,1.04)" font-size="30.5" text-anchor="end" fill="#000" >1.002</text>
<text x="0" y="0" transform="translate(1488.7,433.7) scale(1,1.04)" font-size="30.5" text-anchor="end" fill="#000" >1.000</text>
<line x1="1506" y1="462.6" x2="1506" y2="470.6" stroke="#000" stroke-width="2.4" />
<line x1="1620.7" y1="462.6" x2="1620.7" y2="470.6" stroke="#000" stroke-width="2.4" />
<line x1="1737.2" y1="462.6" x2="1737.2" y2="470.6" stroke="#000" stroke-width="2.4" />
<line x1="1850.8" y1="462.6" x2="1850.8" y2="470.6" stroke="#000" stroke-width="2.4" />
<line x1="1966.9" y1="462.6" x2="1966.9" y2="470.6" stroke="#000" stroke-width="2.4" />
<line x1="1564" y1="462.6" x2="1564" y2="466.6" stroke="#000" stroke-width="2.4" />
<line x1="1678.9" y1="462.6" x2="1678.9" y2="466.6" stroke="#000" stroke-width="2.4" />
<line x1="1794" y1="462.6" x2="1794" y2="466.6" stroke="#000" stroke-width="2.4" />
<line x1="1910" y1="462.6" x2="1910" y2="466.6" stroke="#000" stroke-width="2.4" />
<line x1="2024.4" y1="462.6" x2="2024.4" y2="466.6" stroke="#000" stroke-width="2.4" />
<text x="1506" y="504.8" font-size="33" text-anchor="middle" fill="#000" >0</text>
<text x="1620.7" y="504.8" font-size="33" text-anchor="middle" fill="#000" >1</text>
<text x="1737.2" y="504.8" font-size="33" text-anchor="middle" fill="#000" >2</text>
<text x="1850.8" y="504.8" font-size="33" text-anchor="middle" fill="#000" >3</text>
<text x="1966.9" y="504.8" font-size="33" text-anchor="middle" fill="#000" >4</text>
<text x="1667.1" y="536" font-size="31.8" text-anchor="start" fill="#000" >Pressure (GPa)</text>
<text x="1375" y="37.5" font-size="52" text-anchor="start" fill="#000" font-weight="bold">d</text>
<text x="0" y="0" font-size="25" text-anchor="middle" font-family="'Liberation Sans', 'Noto Sans CJK JP', sans-serif" transform="translate(1397,272) rotate(-90) scale(1.23,1)" >〈</text>
<text x="0" y="0" font-size="34" text-anchor="middle" font-family="'Liberation Sans', sans-serif" transform="translate(1399.6,247.8) rotate(-90) scale(0.93,1)" stroke="#000" stroke-width="0.7">λ</text>
<text x="0" y="0" font-size="25" text-anchor="middle" font-family="'Liberation Sans', 'Noto Sans CJK JP', sans-serif" transform="translate(1397,223.2) rotate(-90) scale(1.23,1)" >〉</text>
<polygon points="1506,84.5 1512.3,87.95 1512.3,94.85 1506,98.3 1499.7,94.85 1499.7,87.95" fill="#fff" stroke="#50bafa" stroke-width="1.4" />
<polygon points="1506,406.6 1512.6,410.4 1512.6,418 1506,421.8 1499.4,418 1499.4,410.4" fill="#50bafa" stroke="none" stroke-width="0" />
<polygon points="1523.2,409.1 1529.8,412.9 1529.8,420.5 1523.2,424.3 1516.6,420.5 1516.6,412.9" fill="#50bafa" stroke="none" stroke-width="0" />
<polygon points="1547.4,98.6 1554,102.4 1554,110 1547.4,113.8 1540.8,110 1540.8,102.4" fill="#50bafa" stroke="none" stroke-width="0" />
<polygon points="1570.6,140.5 1577.2,144.3 1577.2,151.9 1570.6,155.7 1564,151.9 1564,144.3" fill="#50bafa" stroke="none" stroke-width="0" />
<polygon points="1596.8,166.8 1603.4,170.6 1603.4,178.2 1596.8,182 1590.2,178.2 1590.2,170.6" fill="#50bafa" stroke="none" stroke-width="0" />
<polygon points="1622.1,173.8 1628.7,177.6 1628.7,185.2 1622.1,189 1615.5,185.2 1615.5,177.6" fill="#50bafa" stroke="none" stroke-width="0" />
<polygon points="1679.4,223.3 1686,227.1 1686,234.7 1679.4,238.5 1672.8,234.7 1672.8,227.1" fill="#50bafa" stroke="none" stroke-width="0" />
<polygon points="1737.6,255.7 1744.2,259.5 1744.2,267.1 1737.6,270.9 1731,267.1 1731,259.5" fill="#50bafa" stroke="none" stroke-width="0" />
<polygon points="1854,278.6 1860.6,282.4 1860.6,290 1854,293.8 1847.4,290 1847.4,282.4" fill="#50bafa" stroke="none" stroke-width="0" />
<polygon points="1903.6,281.9 1910.2,285.7 1910.2,293.3 1903.6,297.1 1897,293.3 1897,285.7" fill="#50bafa" stroke="none" stroke-width="0" />
<polygon points="1969,287.4 1975.6,291.2 1975.6,298.8 1969,302.6 1962.4,298.8 1962.4,291.2" fill="#50bafa" stroke="none" stroke-width="0" />
<line x1="1529.1" y1="32.8" x2="1529.1" y2="461.6" stroke="#ff0000" stroke-width="2.2" stroke-dasharray="10 9.5" stroke-dashoffset="0"/>
<line x1="1881.1" y1="32.8" x2="1881.1" y2="461.6" stroke="#ff0000" stroke-width="2.2" stroke-dasharray="10 9.5" stroke-dashoffset="0"/>
<rect x="1506.3" y="559.3" width="518.1" height="430.1" fill="none" stroke="#000" stroke-width="2.7"/>
<line x1="1496.3" y1="586" x2="1506.3" y2="586" stroke="#000" stroke-width="2.4" />
<line x1="1496.3" y1="639.64" x2="1506.3" y2="639.64" stroke="#000" stroke-width="2.4" />
<line x1="1496.3" y1="693.28" x2="1506.3" y2="693.28" stroke="#000" stroke-width="2.4" />
<line x1="1496.3" y1="746.92" x2="1506.3" y2="746.92" stroke="#000" stroke-width="2.4" />
<line x1="1496.3" y1="800.56" x2="1506.3" y2="800.56" stroke="#000" stroke-width="2.4" />
<line x1="1496.3" y1="854.2" x2="1506.3" y2="854.2" stroke="#000" stroke-width="2.4" />
<line x1="1496.3" y1="907.84" x2="1506.3" y2="907.84" stroke="#000" stroke-width="2.4" />
<line x1="1496.3" y1="961.48" x2="1506.3" y2="961.48" stroke="#000" stroke-width="2.4" />
<line x1="1501.3" y1="559.18" x2="1506.3" y2="559.18" stroke="#000" stroke-width="2.4" />
<line x1="1501.3" y1="612.82" x2="1506.3" y2="612.82" stroke="#000" stroke-width="2.4" />
<line x1="1501.3" y1="666.46" x2="1506.3" y2="666.46" stroke="#000" stroke-width="2.4" />
<line x1="1501.3" y1="720.1" x2="1506.3" y2="720.1" stroke="#000" stroke-width="2.4" />
<line x1="1501.3" y1="773.74" x2="1506.3" y2="773.74" stroke="#000" stroke-width="2.4" />
<line x1="1501.3" y1="827.38" x2="1506.3" y2="827.38" stroke="#000" stroke-width="2.4" />
<line x1="1501.3" y1="881.02" x2="1506.3" y2="881.02" stroke="#000" stroke-width="2.4" />
<line x1="1501.3" y1="934.66" x2="1506.3" y2="934.66" stroke="#000" stroke-width="2.4" />
<line x1="1501.3" y1="988.3" x2="1506.3" y2="988.3" stroke="#000" stroke-width="2.4" />
<text x="0" y="0" transform="translate(1490,595.1) scale(1,1.02)" font-size="30.8" text-anchor="end" fill="#000" >140</text>
<text x="0" y="0" transform="translate(1490,648.74) scale(1,1.02)" font-size="30.8" text-anchor="end" fill="#000" >120</text>
<text x="0" y="0" transform="translate(1490,702.38) scale(1,1.02)" font-size="30.8" text-anchor="end" fill="#000" >100</text>
<text x="0" y="0" transform="translate(1490,756.02) scale(1,1.02)" font-size="30.8" text-anchor="end" fill="#000" >80</text>
<text x="0" y="0" transform="translate(1490,809.66) scale(1,1.02)" font-size="30.8" text-anchor="end" fill="#000" >60</text>
<text x="0" y="0" transform="translate(1490,863.3) scale(1,1.02)" font-size="30.8" text-anchor="end" fill="#000" >40</text>
<text x="0" y="0" transform="translate(1490,916.94) scale(1,1.02)" font-size="30.8" text-anchor="end" fill="#000" >20</text>
<text x="0" y="0" transform="translate(1490,970.58) scale(1,1.02)" font-size="30.8" text-anchor="end" fill="#000" >0</text>
<line x1="1506" y1="989.4" x2="1506" y2="997.4" stroke="#000" stroke-width="2.4" />
<line x1="1620.7" y1="989.4" x2="1620.7" y2="997.4" stroke="#000" stroke-width="2.4" />
<line x1="1737.2" y1="989.4" x2="1737.2" y2="997.4" stroke="#000" stroke-width="2.4" />
<line x1="1850.8" y1="989.4" x2="1850.8" y2="997.4" stroke="#000" stroke-width="2.4" />
<line x1="1966.9" y1="989.4" x2="1966.9" y2="997.4" stroke="#000" stroke-width="2.4" />
<line x1="1564" y1="989.4" x2="1564" y2="993.4" stroke="#000" stroke-width="2.4" />
<line x1="1678.9" y1="989.4" x2="1678.9" y2="993.4" stroke="#000" stroke-width="2.4" />
<line x1="1794" y1="989.4" x2="1794" y2="993.4" stroke="#000" stroke-width="2.4" />
<line x1="1910" y1="989.4" x2="1910" y2="993.4" stroke="#000" stroke-width="2.4" />
<line x1="2024.4" y1="989.4" x2="2024.4" y2="993.4" stroke="#000" stroke-width="2.4" />
<text x="1506" y="1031.2" font-size="33" text-anchor="middle" fill="#000" >0</text>
<text x="1620.7" y="1031.2" font-size="33" text-anchor="middle" fill="#000" >1</text>
<text x="1737.2" y="1031.2" font-size="33" text-anchor="middle" fill="#000" >2</text>
<text x="1850.8" y="1031.2" font-size="33" text-anchor="middle" fill="#000" >3</text>
<text x="1966.9" y="1031.2" font-size="33" text-anchor="middle" fill="#000" >4</text>
<text x="1667.1" y="1070.8" font-size="31.8" text-anchor="start" fill="#000" >Pressure (GPa)</text>
<text x="1374.5" y="560.6" font-size="52" text-anchor="start" fill="#000" font-weight="bold">e</text>
<text x="0" y="0" font-size="34" transform="translate(1420.8,795.0) rotate(-90)"><tspan font-style="italic">σ</tspan><tspan font-size="22" font-style="italic" dy="8">θ</tspan><tspan font-size="24" dy="-22" dx="-3">2</tspan></text>
<circle cx="1505.8" cy="763.6" r="6.4" fill="#fff" stroke="#fb48ad" stroke-width="1.5"/>
<circle cx="1505.8" cy="954" r="6.9" fill="#fb48ad" stroke="none" stroke-width="0"/>
<circle cx="1523.1" cy="952.1" r="6.9" fill="#fb48ad" stroke="none" stroke-width="0"/>
<circle cx="1547.5" cy="751.2" r="6.9" fill="#fb48ad" stroke="none" stroke-width="0"/>
<circle cx="1570.3" cy="732.2" r="6.9" fill="#fb48ad" stroke="none" stroke-width="0"/>
<circle cx="1596.7" cy="720" r="6.9" fill="#fb48ad" stroke="none" stroke-width="0"/>
<circle cx="1622.1" cy="717" r="6.9" fill="#fb48ad" stroke="none" stroke-width="0"/>
<circle cx="1679.5" cy="698.1" r="6.9" fill="#fb48ad" stroke="none" stroke-width="0"/>
<circle cx="1737.4" cy="677.8" r="6.9" fill="#fb48ad" stroke="none" stroke-width="0"/>
<circle cx="1853.8" cy="636.7" r="6.9" fill="#fb48ad" stroke="none" stroke-width="0"/>
<circle cx="1903.6" cy="624" r="6.9" fill="#fb48ad" stroke="none" stroke-width="0"/>
<circle cx="1969.1" cy="606.7" r="6.9" fill="#fb48ad" stroke="none" stroke-width="0"/>
<line x1="1529.2" y1="559.2" x2="1529.2" y2="988.4" stroke="#ff0000" stroke-width="2.2" stroke-dasharray="10 9.5" stroke-dashoffset="0"/>
<line x1="1881.1" y1="559.2" x2="1881.1" y2="988.4" stroke="#ff0000" stroke-width="2.2" stroke-dasharray="10 9.5" stroke-dashoffset="0"/>
</svg>
</body></html>
